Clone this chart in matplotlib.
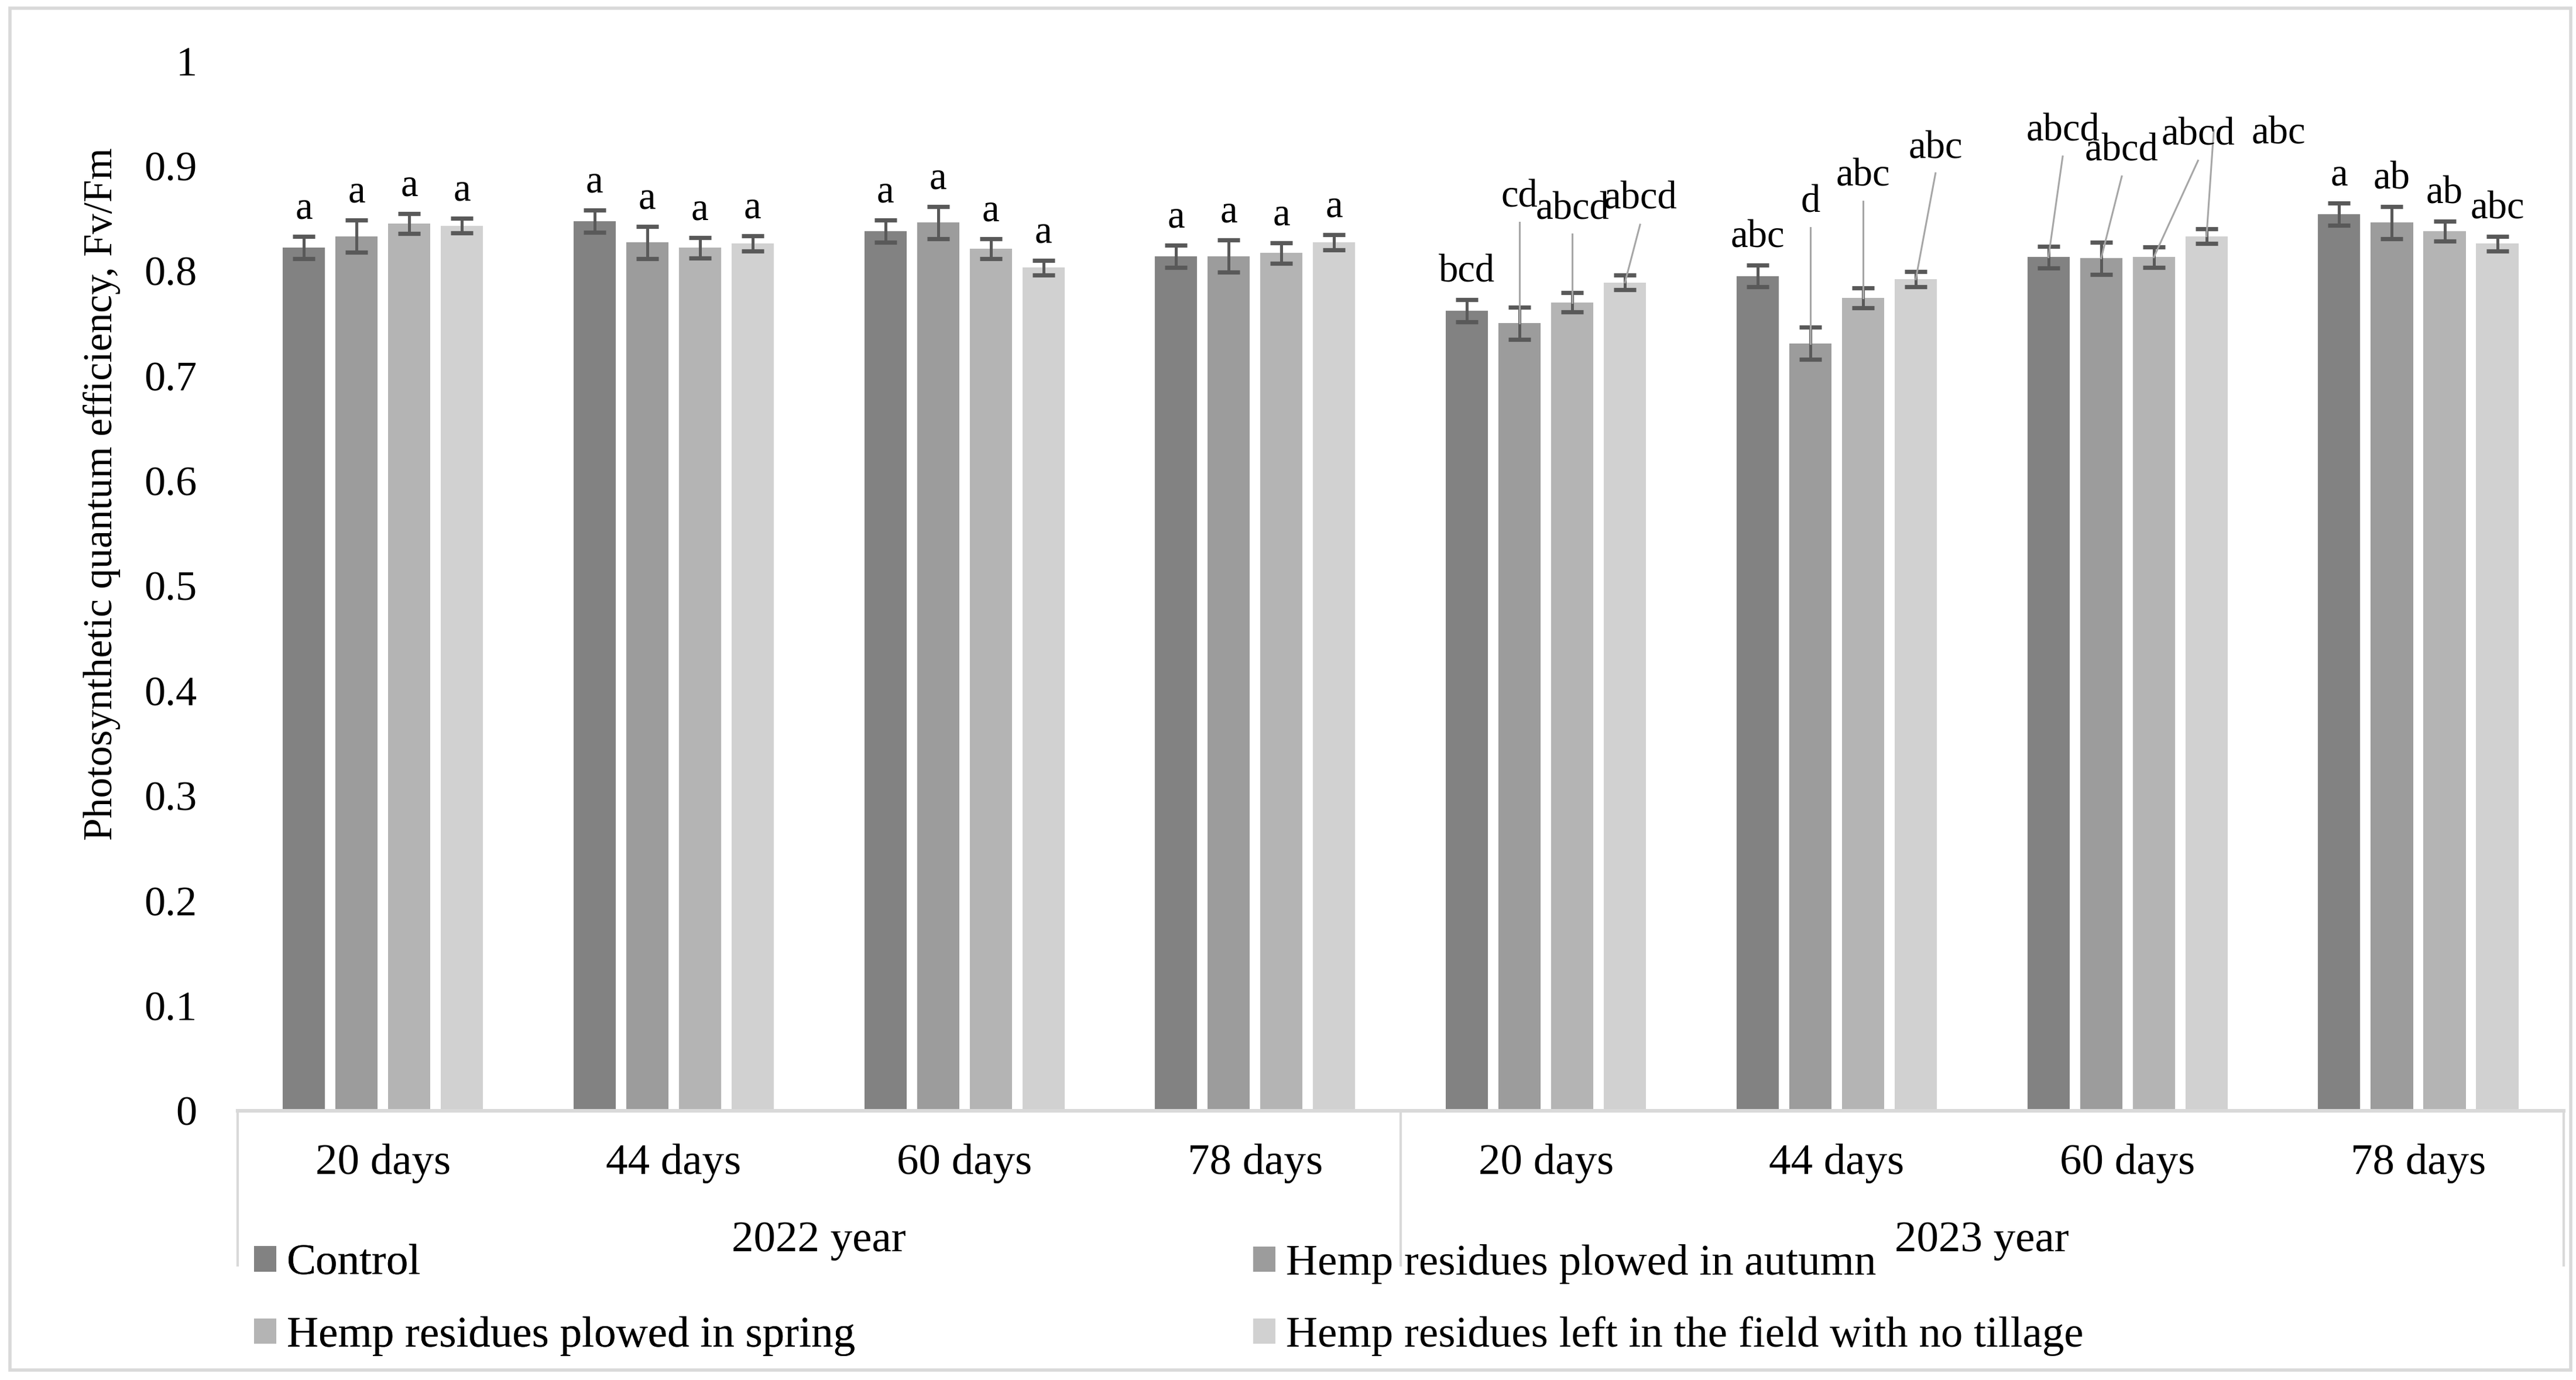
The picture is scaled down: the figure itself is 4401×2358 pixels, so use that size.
import matplotlib
matplotlib.use('Agg')
import matplotlib.pyplot as plt
from matplotlib.patches import Patch, Rectangle

plt.rcParams['font.family'] = ['Liberation Serif', 'DejaVu Serif']

days = ['20 days', '44 days', '60 days', '78 days',
        '20 days', '44 days', '60 days', '78 days']
years = ['2022 year', '2023 year']
series = ['Control', 'Hemp residues plowed in autumn',
          'Hemp residues plowed in spring',
          'Hemp residues left in the field with no tillage']
colors = ['#828282', '#9c9c9c', '#b4b4b4', '#d1d1d1']

# values per series, one per sampling date (2022 then 2023)
control = [0.822, 0.847, 0.838, 0.814, 0.762, 0.795, 0.813, 0.854]
autumn = [0.833, 0.827, 0.846, 0.814, 0.750, 0.731, 0.812, 0.846]
spring = [0.845, 0.822, 0.821, 0.817, 0.770, 0.774, 0.813, 0.838]
no_till = [0.843, 0.826, 0.803, 0.827, 0.789, 0.792, 0.833, 0.826]

err_control = [0.0106, 0.0106, 0.0106, 0.0106, 0.0106, 0.0102, 0.0105, 0.0106]
err_autumn = [0.0152, 0.0154, 0.0153, 0.0154, 0.0153, 0.0153, 0.0154, 0.0154]
err_spring = [0.0094, 0.0096, 0.0095, 0.0096, 0.0094, 0.0095, 0.0096, 0.0095]
err_no_till = [0.0070, 0.0072, 0.0070, 0.0072, 0.0068, 0.0071, 0.0068, 0.0069]

letters_control = ['a', 'a', 'a', 'a', 'bcd', 'abc', 'abcd', 'a']
letters_autumn = ['a', 'a', 'a', 'a', 'cd', 'd', 'abcd', 'ab']
letters_spring = ['a', 'a', 'a', 'a', 'abcd', 'abc', 'abcd', 'ab']
letters_no_till = ['a', 'a', 'a', 'a', 'abcd', 'abc', 'abc', 'abc']

# labels moved away from their bars (Excel leader lines):
# (series, date, label x shift, label baseline, leader x shift, leader top)
moved = [
    (1, 4, 0.0, 0.861, 0.0, 0.846),
    (2, 4, 0.0, 0.849, 0.0, 0.835),
    (3, 4, 0.052, 0.859, 0.052, 0.844),
    (1, 5, 0.0, 0.856, 0.0, 0.841),
    (2, 5, 0.0, 0.881, 0.0, 0.866),
    (3, 5, 0.068, 0.907, 0.068, 0.893),
    (0, 6, 0.049, 0.924, 0.049, 0.909),
    (1, 6, 0.071, 0.905, 0.071, 0.890),
    (2, 6, 0.152, 0.920, 0.152, 0.905),
    (3, 6, 0.247, 0.921, 0.025, 0.934),
]

values = [control, autumn, spring, no_till]
errors = [err_control, err_autumn, err_spring, err_no_till]
letters = [letters_control, letters_autumn, letters_spring, letters_no_till]

fig = plt.figure(figsize=(22.005, 11.79), dpi=200)
ax = fig.add_axes([0.0922, 0.1951, 0.9952 - 0.0922, 0.9559 - 0.1951])

step = 0.1812
width = 0.145
x = list(range(len(days)))
for i in range(4):
    xs = [k + (i - 1.5) * step for k in x]
    ax.bar(xs, values[i], width, color=colors[i], zorder=2)
    ax.errorbar(xs, values[i], yerr=errors[i], fmt='none', ecolor='#595959',
                elinewidth=1.8, capsize=7, capthick=2.6, zorder=3)

moved_keys = {(m[0], m[1]): m[2:] for m in moved}
for i in range(4):
    for k in x:
        xb = k + (i - 1.5) * step
        top = values[i][k] + errors[i][k]
        if (i, k) in moved_keys:
            dx, ly, ldx, lt = moved_keys[(i, k)]
            ax.plot([xb, xb + ldx], [values[i][k], lt], color='#a6a6a6',
                    lw=1.1, zorder=4)
            ax.text(xb + dx, ly, letters[i][k], ha='center', va='baseline',
                    fontsize=24, zorder=5)
        else:
            ax.text(xb, top + 0.017, letters[i][k], ha='center',
                    va='baseline', fontsize=24, zorder=5)

ax.set_xlim(-0.5, 7.5)
ax.set_ylim(0, 1)
ax.set_yticks([i / 10 for i in range(11)])
ax.set_yticklabels(['0', '0.1', '0.2', '0.3', '0.4', '0.5', '0.6', '0.7',
                    '0.8', '0.9', '1'])
ax.set_xticks(x)
ax.set_xticklabels(days)
ax.tick_params(axis='y', length=0, pad=25, labelsize=26)
ax.tick_params(axis='x', length=0, pad=20, labelsize=27)
for s in ['top', 'right', 'left']:
    ax.spines[s].set_visible(False)
ax.spines['bottom'].set_color('#d9d9d9')
ax.spines['bottom'].set_linewidth(2.2)

trans = ax.get_xaxis_transform()
for xv in [-0.5, 3.5, 7.5]:
    ax.plot([xv, xv], [0, -0.147], transform=trans, color='#d9d9d9',
            lw=1.5, clip_on=False)
for j, yr in enumerate(years):
    ax.text(1.5 + 4 * j, -0.1338, yr, transform=trans, ha='center',
            va='baseline', fontsize=27)

fig.text(0.0396, 0.642, 'Photosynthetic quantum efficiency, Fv/Fm',
         rotation=90, ha='center', va='center', fontsize=25)

handles = [Patch(facecolor=c) for c in colors]
leg_kw = dict(frameon=False, fontsize=27, handlelength=0.51,
              handleheight=0.51, handletextpad=0.24, labelspacing=0.74,
              borderpad=0, borderaxespad=0, loc='center left')
leg1 = fig.legend([handles[0], handles[2]], [series[0], series[2]],
                  bbox_to_anchor=(0.0986, 0.0578), **leg_kw)
fig.add_artist(leg1)
fig.legend([handles[1], handles[3]], [series[1], series[3]],
           bbox_to_anchor=(0.4865, 0.0578), **leg_kw)

fig.add_artist(Rectangle((0.0039, 0.0072), 0.994, 0.9868, transform=fig.transFigure,
                         fill=False, edgecolor='#d9d9d9', lw=2))

fig.savefig('out.png', dpi=200)
